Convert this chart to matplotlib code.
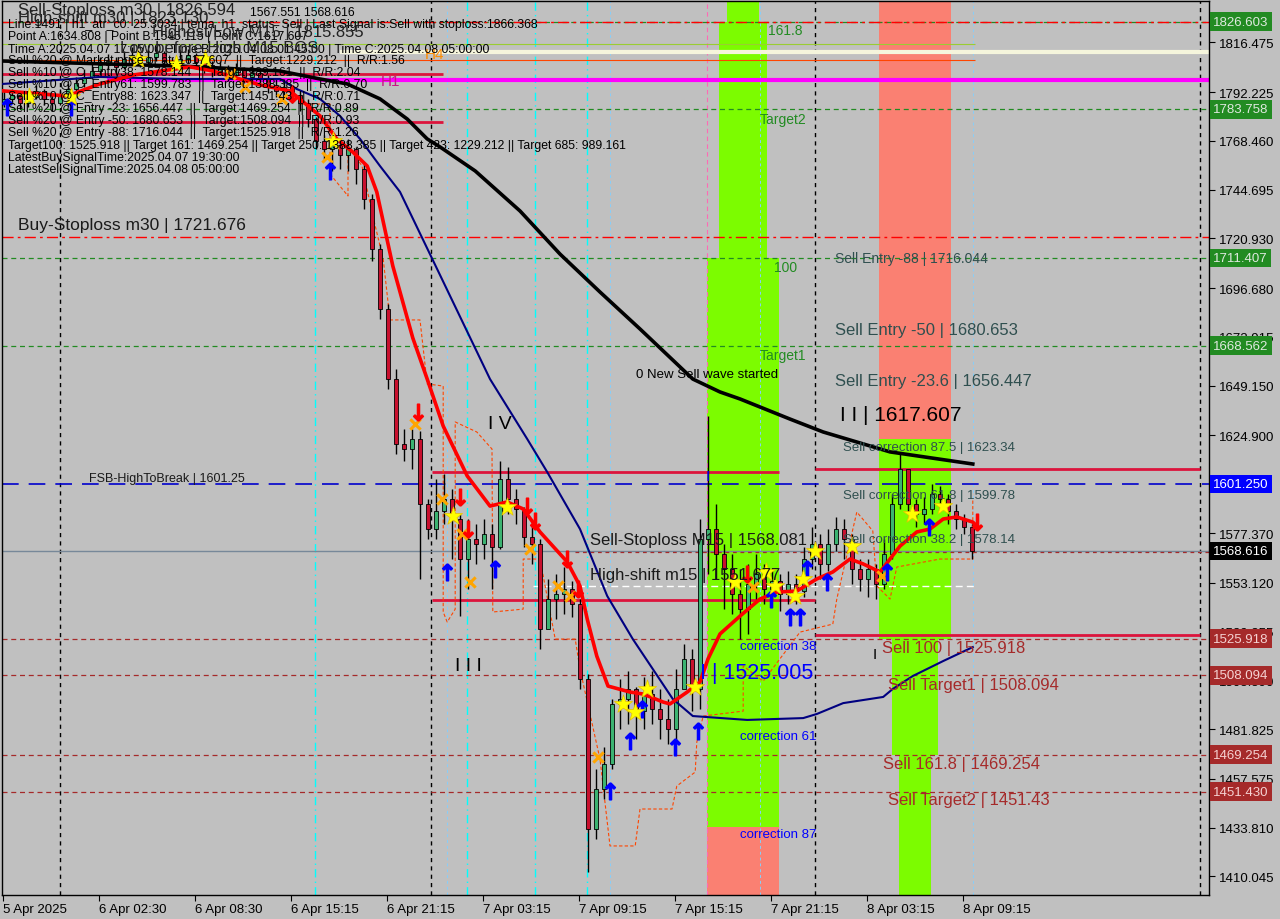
import matplotlib
matplotlib.use('Agg')
import matplotlib.pyplot as plt
import matplotlib.transforms as mtransforms

plt.rcParams['font.family'] = ['Liberation Sans', 'DejaVu Sans']

# ---- candles (30 min bars, x = bar index) ----
first_open = 1787.0
close = [1788.9, 1790.8, 1786.9, 1789.8, 1792.8, 1788.9, 1786.9, 1790.8, 1793.7, 1796.7,
         1799.6, 1802.5, 1805.4, 1807.4, 1804.5, 1808.4, 1810.3, 1806.9, 1809.3, 1811.3,
         1807.4, 1805.4, 1808.4, 1810.3, 1806.9, 1805.4, 1802.5, 1804.5, 1800.6, 1803.5,
         1799.6, 1801.5, 1798.6, 1795.7, 1792.8, 1794.7, 1790.8, 1786.9, 1779.1, 1768.4,
         1764.5, 1766.5, 1761.6, 1764.5, 1754.8, 1740.1, 1715.8, 1686.5, 1652.4, 1620.8,
         1618.3, 1623.2, 1591.5, 1579.3, 1588.1, 1593.9, 1584.2, 1564.7, 1574.5, 1572.0,
         1576.9, 1570.6, 1603.7, 1593.9, 1589.1, 1575.4, 1572.0, 1530.6, 1545.2, 1547.7,
         1550.1, 1542.8, 1506.2, 1433.1, 1452.6, 1464.8, 1494.1, 1496.5, 1501.4, 1490.6,
         1498.9, 1491.6, 1486.7, 1481.9, 1501.4, 1516.0, 1501.4, 1574.5, 1579.3, 1567.1,
         1559.8, 1547.7, 1540.3, 1552.5, 1557.4, 1550.1, 1554.0, 1547.7, 1552.5, 1549.1,
         1564.7, 1572.0, 1562.3, 1572.0, 1579.3, 1574.5, 1559.8, 1555.0, 1559.8, 1552.5,
         1567.1, 1591.5, 1608.6, 1591.5, 1586.6, 1589.1, 1596.4, 1593.9, 1588.1, 1584.2,
         1580.3, 1568.6]
high = [1792.8, 1793.7, 1791.8, 1792.8, 1795.7, 1793.7, 1790.8, 1793.7, 1796.7, 1799.6,
        1803.5, 1806.4, 1809.3, 1810.8, 1809.3, 1812.3, 1814.2, 1811.3, 1813.2, 1814.7,
        1812.3, 1809.3, 1812.3, 1813.2, 1811.3, 1809.3, 1807.4, 1807.4, 1805.4, 1806.4,
        1804.5, 1805.4, 1803.5, 1800.6, 1798.6, 1798.6, 1795.7, 1792.8, 1788.9, 1780.1,
        1771.3, 1770.4, 1769.4, 1769.4, 1765.5, 1757.2, 1742.6, 1718.2, 1689.0, 1657.3,
        1628.1, 1628.1, 1627.1, 1593.9, 1603.7, 1606.1, 1598.8, 1586.6, 1584.2, 1581.8,
        1584.2, 1581.8, 1612.5, 1609.5, 1598.8, 1590.1, 1584.2, 1574.5, 1555.0, 1557.4,
        1560.8, 1554.0, 1545.2, 1508.7, 1462.4, 1473.1, 1496.5, 1506.2, 1510.1, 1502.3,
        1507.2, 1510.1, 1501.4, 1496.5, 1511.1, 1523.3, 1520.9, 1584.2, 1634.4, 1591.5,
        1572.0, 1567.1, 1559.8, 1562.3, 1567.1, 1562.3, 1559.8, 1557.4, 1558.9, 1557.4,
        1570.6, 1580.3, 1576.9, 1579.3, 1585.2, 1584.2, 1576.9, 1564.7, 1564.7, 1562.3,
        1574.5, 1596.4, 1616.9, 1606.1, 1593.9, 1594.9, 1601.3, 1600.3, 1596.4, 1591.5,
        1586.6, 1581.8]
low = [1785.0, 1786.9, 1784.0, 1785.0, 1788.9, 1785.9, 1783.0, 1785.9, 1789.8, 1791.8,
       1794.7, 1798.6, 1800.6, 1803.5, 1801.5, 1803.5, 1806.4, 1804.5, 1805.4, 1807.4,
       1805.4, 1802.5, 1804.5, 1806.4, 1803.5, 1801.5, 1799.6, 1800.6, 1797.6, 1799.6,
       1796.7, 1797.6, 1795.7, 1791.8, 1789.8, 1790.8, 1786.9, 1783.0, 1775.2, 1764.5,
       1759.6, 1753.8, 1754.8, 1753.8, 1747.4, 1735.3, 1709.9, 1681.7, 1647.6, 1615.9,
       1612.5, 1608.6, 1555.0, 1574.5, 1574.5, 1581.8, 1564.7, 1536.9, 1550.1, 1562.3,
       1564.7, 1550.1, 1569.6, 1586.6, 1581.8, 1570.6, 1562.3, 1520.9, 1533.0, 1535.5,
       1537.9, 1536.5, 1501.4, 1412.2, 1428.3, 1447.8, 1462.4, 1481.9, 1484.3, 1477.0,
       1481.9, 1484.3, 1477.0, 1474.6, 1476.0, 1507.2, 1490.6, 1491.6, 1557.4, 1555.0,
       1540.3, 1537.9, 1525.7, 1528.2, 1545.2, 1542.8, 1545.2, 1539.4, 1542.8, 1542.8,
       1546.2, 1559.8, 1555.0, 1558.9, 1568.6, 1564.7, 1552.5, 1549.1, 1546.2, 1545.2,
       1550.1, 1564.7, 1589.1, 1586.6, 1580.3, 1581.8, 1586.6, 1588.1, 1581.8, 1579.3,
       1576.9, 1564.7]

# ---- moving averages ----
red_ma_x = [0.4, 8.4, 12.5, 16.75, 23.75, 26.6, 32.5, 36.25, 40.0, 42.1, 44.1, 45.9, 47.1,
            49.1, 51.6, 53.4, 55.4, 58.4, 61.25, 63.4, 65.4, 67.5, 70.9, 72.5, 73.4, 74.6,
            76.0, 78.75, 80.4, 82.9, 83.75, 85.9, 87.5, 88.5, 90.0, 92.5, 95.0, 97.1, 99.6,
            102.1, 104.1, 106.25, 107.9, 110.0, 111.25, 112.5, 114.6, 116.25, 117.9, 119.6,
            121.6, 122.1]
red_ma_y = [1792.8, 1790.3, 1796.2, 1800.6, 1804.5, 1802.5, 1795.7, 1792.8, 1780.6, 1769.4,
            1763.0, 1756.2, 1743.5, 1707.5, 1672.4, 1652.4, 1629.5, 1605.2, 1590.5, 1592.5,
            1589.1, 1577.9, 1563.3, 1551.5, 1535.5, 1517.4, 1502.8, 1499.9, 1498.9, 1495.0,
            1494.1, 1499.9, 1504.8, 1516.0, 1528.2, 1536.9, 1545.2, 1548.6, 1549.1, 1555.0,
            1558.4, 1564.7, 1562.3, 1558.4, 1564.7, 1571.0, 1577.9, 1579.3, 1584.2, 1585.2,
            1582.7, 1580.8]
blue_ma_x = [0.4, 12.5, 22.5, 35.0, 37.1, 40.0, 42.5, 45.0, 47.5, 50.0, 55.0, 61.25, 65.9,
             68.4, 72.5, 75.9, 79.1, 84.1, 86.6, 93.4, 100.4, 102.1, 105.4, 110.4, 111.6,
             114.1, 117.9, 121.6]
blue_ma_y = [1796.2, 1799.6, 1798.6, 1798.6, 1793.7, 1788.9, 1780.6, 1769.4, 1756.2, 1743.6,
             1703.1, 1652.4, 1623.2, 1607.1, 1579.3, 1546.7, 1525.7, 1496.5, 1488.2, 1486.3,
             1487.2, 1489.2, 1494.5, 1497.5, 1501.4, 1507.7, 1515.0, 1521.8]
black_ma_x = [0.0, 22.5, 35.0, 40.0, 43.4, 47.5, 50.9, 53.4, 55.0, 59.4, 65.0, 70.0, 75.0,
              80.0, 86.6, 90.0, 92.5, 98.75, 102.9, 111.25, 121.6]
black_ma_y = [1807.4, 1804.9, 1802.5, 1798.6, 1796.2, 1788.9, 1779.1, 1769.4, 1765.5, 1753.8,
              1734.3, 1713.3, 1694.8, 1676.8, 1652.4, 1646.1, 1642.7, 1632.9, 1626.6, 1616.9,
              1611.0]
orange_x = [37.5, 41.25, 41.25, 43.5, 43.5, 45.25, 46.6, 47.9, 48.75, 52.5, 53.4, 55.4, 55.4,
            55.9, 56.9, 56.9, 59.6, 61.5, 61.6, 65.4, 65.4, 67.5, 69.4, 71.9, 72.5, 75.0,
            76.25, 79.4, 80.0, 84.0, 84.6, 86.9, 87.1, 87.9, 92.9, 92.9, 95.4, 100.0, 104.1,
            104.6, 107.1, 109.1, 109.6, 111.25, 112.1, 117.5, 121.6, 121.6]
orange_y = [1786.4, 1786.4, 1752.3, 1741.6, 1766.5, 1756.2, 1731.9, 1710.9, 1681.2, 1681.2,
            1650.0, 1649.0, 1538.9, 1534.0, 1540.3, 1631.5, 1626.6, 1618.3, 1538.9, 1540.3,
            1564.7, 1564.7, 1525.7, 1525.7, 1511.1, 1467.2, 1424.9, 1424.9, 1442.9, 1442.9,
            1454.1, 1460.9, 1475.5, 1488.2, 1490.6, 1512.6, 1505.2, 1529.1, 1533.0, 1545.2,
            1587.6, 1578.4, 1551.6, 1545.2, 1560.8, 1564.7, 1564.7, 1593.9]

# ---- signal marks ----
star_x = [3.6, 8.9, 17.25, 22.0, 25.6, 41.6, 56.6, 63.4, 77.9, 79.4, 80.9, 86.9, 91.9, 95.75,
          96.9, 99.4, 100.4, 101.9, 106.5, 114.0, 117.9]
star_y = [1789.8, 1789.8, 1808.4, 1805.9, 1808.4, 1768.4, 1585.7, 1590.1, 1494.1, 1490.1,
          1501.4, 1502.3, 1553.5, 1558.4, 1551.6, 1546.7, 1555.0, 1568.6, 1571.0, 1586.6,
          1590.5]
up_x = [0.9, 8.9, 41.25, 55.9, 61.9, 76.25, 78.75, 80.25, 84.4, 87.25, 96.4, 98.75, 100.0,
        100.9, 103.4, 110.9, 116.1]
up_y = [1785.0, 1785.0, 1753.8, 1558.4, 1559.8, 1451.7, 1476.0, 1491.6, 1473.1, 1480.9,
        1545.2, 1536.5, 1536.5, 1559.8, 1553.5, 1558.4, 1580.3]
down_x = [36.5, 52.25, 57.5, 58.5, 65.9, 66.9, 70.9, 72.25, 93.4, 122.1]
down_y = [1791.3, 1636.3, 1594.9, 1579.3, 1590.5, 1583.2, 1564.7, 1550.1, 1557.4, 1582.7]
cross_x = [28.75, 30.6, 35.25, 40.9, 51.9, 55.25, 57.75, 58.75, 66.25, 69.75, 71.25, 74.75,
           94.1, 110.25]
cross_y = [1801.1, 1794.7, 1788.9, 1760.6, 1630.5, 1593.9, 1576.9, 1553.5, 1569.6, 1551.6,
           1546.7, 1468.2, 1551.1, 1556.4]

# ---- axis ----
price_ticks = [1816.475, 1792.225, 1768.460, 1744.695, 1720.930, 1696.680, 1672.915, 1649.150,
               1624.900, 1577.370, 1553.120, 1529.355, 1505.590, 1481.825, 1457.575,
               1433.810, 1410.045]
time_labels = ['5 Apr 2025', '6 Apr 02:30', '6 Apr 08:30', '6 Apr 15:15', '6 Apr 21:15',
               '7 Apr 03:15', '7 Apr 09:15', '7 Apr 15:15', '7 Apr 21:15', '8 Apr 03:15',
               '8 Apr 09:15']
time_pos = [0.375, 12.375, 24.375, 36.375, 48.375, 60.375, 72.375, 84.375, 96.375, 108.375,
            120.375]
box_levels = [1826.603, 1783.758, 1711.407, 1668.562, 1601.250, 1568.616, 1525.918,
              1508.094, 1469.254, 1451.430]
box_colors = ['#228b22', '#228b22', '#228b22', '#228b22', '#0000ff', '#000000', '#a52a2a',
              '#a52a2a', '#a52a2a', '#a52a2a']
box_text = ['#dfe9df', '#dfe9df', '#dfe9df', '#dfe9df', 'white', 'white', '#f5d2d2',
            '#f5d2d2', '#f5d2d2', '#f5d2d2']

W, H = 1280, 920
BG = '#c0c0c0'
fig = plt.figure(figsize=(12.8, 9.2), dpi=100)
fig.patch.set_facecolor(BG)
ax = fig.add_axes([2 / W, 24 / H, 1207 / W, 894 / H])
ax.set_facecolor(BG)
ax.set_xlim(0.25, 151.125)
ax.set_ylim(1401.0, 1836.6)
YTOP, YBOT = 1836.6, 1401.0

# coloured zones
zones = [(90.9, 94.9, 1826.6, YTOP, '#7cfc00'),
         (89.9, 95.9, 1711.4, 1826.6, '#7cfc00'),
         (88.4, 97.4, 1434.1, 1711.4, '#7cfc00'),
         (88.4, 97.4, YBOT, 1434.1, '#fa8072'),
         (109.9, 118.9, 1623.34, YTOP, '#fa8072'),
         (109.9, 118.9, 1525.918, 1623.34, '#7cfc00'),
         (111.5, 117.25, 1469.254, 1525.918, '#7cfc00'),
         (112.4, 116.4, YBOT, 1469.254, '#7cfc00')]
for x0, x1, y0, y1, c in zones:
    ax.fill_between([x0, x1], y0, y1, color=c, lw=0, zorder=0.5)

# vertical separators
for xv in [7.5, 53.9, 101.9, 150.0]:
    ax.axvline(xv, color='black', ls=(0, (3, 3)), lw=1, zorder=1)
for xv in [39.4, 58.4, 66.9, 73.4]:
    ax.axvline(xv, color='#00ffff', ls=(0, (6, 3, 1, 3)), lw=1, zorder=1)
for xv in [55.9, 76.25, 95.0, 121.6]:
    ax.axvline(xv, color='#87cefa', ls=(0, (3, 3)), lw=0.7, zorder=1)
ax.axvline(88.4, color='#ff69b4', ls=(0, (4, 3)), lw=0.8, zorder=1)

# horizontal levels
for lv in [1826.603, 1783.758, 1711.407, 1668.562]:
    ax.axhline(lv, color='#228b22', ls=(0, (4, 3)), lw=0.9, zorder=1.2)
for lv in [1826.594, 1721.676]:
    ax.axhline(lv, color='red', ls=(0, (8, 3, 2, 3)), lw=1, zorder=1.2)
for lv in [1525.918, 1508.094, 1469.254, 1451.430]:
    ax.axhline(lv, color='#a52a2a', ls=(0, (4, 3)), lw=0.9, zorder=1.2)
ax.axhline(1601.25, color='#0000cd', ls=(0, (10, 6)), lw=1.2, zorder=1.2)
ax.axhline(1568.616, color='#778899', lw=1, zorder=1.2)
ax.hlines(1568.081, 71.9, 151.1, color='#a52a2a', ls=(0, (3, 3)), lw=0.9, zorder=1.2)
ax.hlines(1551.677, 66.6, 121.9, color='white', ls=(0, (5, 3)), lw=1, zorder=1.2)
ax.hlines(1811.8, 42.5, 151.1, color='#f5f5dc', lw=3, zorder=1.2)
ax.hlines(1798.1, 13.4, 151.1, color='#ff00ff', lw=3, zorder=1.2)
ax.hlines(1815.7, 0.25, 121.9, color='#9acd32', lw=0.8, zorder=1.2)
ax.hlines(1807.9, 0.25, 121.9, color='#ff4500', lw=0.8, zorder=1.2)
crimson = [(1801.1, 0.25, 55.4), (1777.7, 0.25, 55.4), (1607.1, 54.0, 97.4),
           (1608.6, 101.9, 150.0), (1544.7, 54.0, 101.9), (1527.7, 101.9, 150.0)]
for lv, x0, x1 in crimson:
    ax.hlines(lv, x0, x1, color='#dc143c', lw=2, zorder=1.3)

ax.plot(orange_x, orange_y, color='#ff4500', ls=(0, (3, 2)), lw=0.8, zorder=2)

# candles
opens = [first_open] + close[:-1]
xs = [k + 0.5 for k in range(len(close))]
ax.vlines(xs, low, high, color='black', lw=1, zorder=3)
cols = ['#3cb371' if c >= o else '#c8102e' for o, c in zip(opens, close)]
hts = [(c - o) if abs(c - o) > 0.4 else 0.4 for o, c in zip(opens, close)]
ax.bar(xs, hts, bottom=opens, width=0.55, color=cols, edgecolor='black', linewidth=0.6,
       zorder=3.2)

# averages
ax.plot(black_ma_x, black_ma_y, color='black', lw=2.6, zorder=4)
ax.plot(blue_ma_x, blue_ma_y, color='#000080', lw=1.5, zorder=4)
ax.plot(red_ma_x, red_ma_y, color='#ff0000', lw=2.6, zorder=4.1)

# signals
ax.scatter(cross_x, cross_y, marker='x', s=55, c='#ffa500', linewidths=2.2, zorder=5)
ax.scatter(star_x, star_y, marker='*', s=190, c='#ffff00', edgecolors='#e6c200',
           linewidths=0.5, zorder=5.2)
ax.scatter(up_x, up_y, marker=r'$\uparrow$', s=140, c='#0000ff', edgecolors='#0000ff',
           linewidths=1.2, zorder=5.1)
ax.scatter(down_x, down_y, marker=r'$\downarrow$', s=140, c='#ff0000', edgecolors='#ff0000',
           linewidths=1.2, zorder=5.1)

# chart labels (x = px/8)
def lab(px, price, s, size, color='#1a1a1a'):
    ax.text(px / 8, price, s, fontsize=size, color=color, ha='left', va='center', zorder=6)

lab(18, 1727.5, 'Buy-Stoploss m30 | 1721.676', 12.5)
lab(89, 1604.2, 'FSB-HighToBreak | 1601.25', 9)
lab(835, 1711.4, 'Sell Entry -88 | 1716.044', 10, '#2f4f4f')
lab(835, 1676.3, 'Sell Entry -50 | 1680.653', 12, '#2f4f4f')
lab(835, 1651.9, 'Sell Entry -23.6 | 1656.447', 12, '#2f4f4f')
lab(840, 1634.9, 'I I | 1617.607', 15, 'black')
lab(843, 1619.3, 'Sell correction 87.5 | 1623.34', 9.5, '#2f4f4f')
lab(843, 1595.9, 'Sell correction 61.8 | 1599.78', 9.5, '#2f4f4f')
lab(843, 1574.5, 'Sell correction 38.2 | 1578.14', 9.5, '#2f4f4f')
lab(590, 1574.0, 'Sell-Stoploss M15 | 1568.081', 12)
lab(590, 1557.4, 'High-shift m15 | 1551.677', 12)
lab(636, 1654.9, '0 New Sell wave started', 9.5, 'black')
lab(760, 1664.1, 'Target1', 10, '#228b22')
lab(760, 1779.1, 'Target2', 10, '#228b22')
lab(768, 1822.5, '161.8', 10, '#228b22')
lab(774, 1707.0, '100', 10, '#228b22')
lab(488, 1630.5, 'I V', 14, 'black')
lab(455, 1512.6, 'I I I', 14, 'black')
lab(700, 1509.6, 'I | 1525.005', 15.5, '#0000ff')
lab(706, 1605.2, 'I', 11, '#0000ff')
lab(740, 1522.3, 'correction 38', 9.5, '#0000ff')
lab(740, 1478.5, 'correction 61', 9.5, '#0000ff')
lab(740, 1430.7, 'correction 87', 9.5, '#0000ff')
lab(882, 1521.8, 'Sell 100 | 1525.918', 12, '#a52a2a')
lab(888, 1503.8, 'Sell Target1 | 1508.094', 12, '#a52a2a')
lab(883, 1465.3, 'Sell 161.8 | 1469.254', 12, '#a52a2a')
lab(888, 1447.3, 'Sell Target2 | 1451.43', 12, '#a52a2a')
lab(873, 1518.4, 'I', 11, 'black')
lab(381, 1797.6, 'H1', 11, '#c71585')
lab(425, 1810.8, 'H4', 11, '#ff8c00')

# info block in the top-left corner (pixel positions)
def ftxt(px, py, s, size=8.8, color='black'):
    fig.text(px / W, 1 - py / H, s, fontsize=size, color=color, ha='left', va='center',
             zorder=7)

ftxt(18, 11, 'Sell-Stoploss m30 | 1826.594', 12, '#222222')
ftxt(18, 19, 'High-shift m30 | 1823.130', 12, '#222222')
ftxt(250, 13, '1567.551 1568.616')
ftxt(8, 25, 'Line:1491 | h1_atr_c0: 25.3034 | tema_h1_status: Sell | Last Signal is:Sell '
     'with stoploss:1866.368')
ftxt(8, 37, 'Point A:1634.808 | Point B:1545.115 | Point C:1617.607')
ftxt(152, 33, 'Highest/Low M15 | 1815.855', 12, '#222222')
ftxt(8, 50, 'Time A:2025.04.07 17:15:00 | Time B:2025.04.08 01:45:00 | '
     'Time C:2025.04.08 05:00:00')
ftxt(120, 48, 'Low before High M15 BOS', 12, '#222222')
info = ['Sell %20 @ Market price or at: 1617.607  ||  Target:1229.212  ||  R/R:1.56',
        'Sell %10 @ C_Entry38: 1578.144  ||  Target:989.161  ||  R/R:2.04',
        'Sell %10 @ C_Entry61: 1599.783  ||  Target:1388.385  ||  R/R:0.70',
        'Sell %10 @ C_Entry88: 1623.347  ||  Target:1451.43  ||  R/R:0.71',
        'Sell %20 @ Entry -23: 1656.447  ||  Target:1469.254  ||  R/R:0.89',
        'Sell %20 @ Entry -50: 1680.653  ||  Target:1508.094  ||  R/R:0.93',
        'Sell %20 @ Entry -88: 1716.044  ||  Target:1525.918  ||  R/R:1.26',
        'Target100: 1525.918 || Target 161: 1469.254 || Target 250: 1388.385 || '
        'Target 423: 1229.212 || Target 685: 989.161',
        'LatestBuySignalTime:2025.04.07 19:30:00',
        'LatestSellSignalTime:2025.04.08 05:00:00']
info_y = [61, 73, 85, 97, 109, 121, 133, 146, 158, 170]
for s, py in zip(info, info_y):
    ftxt(8, py, s)

# axes styling
for sp in ax.spines.values():
    sp.set_color('black')
    sp.set_linewidth(1)
ax.yaxis.tick_right()
ax.set_yticks(price_ticks)
ax.set_yticklabels([f'{v:.3f}' for v in price_ticks])
ax.tick_params(axis='y', which='both', left=False, right=True, labelleft=False,
               labelright=True, direction='out', length=4, pad=3, labelsize=9.5,
               colors='black')
ax.set_xticks(time_pos)
ax.set_xticklabels(time_labels)
ax.tick_params(axis='x', direction='out', length=4, pad=2, labelsize=9.5, colors='black')
for t in ax.get_xticklabels():
    t.set_ha('left')

trans = mtransforms.blended_transform_factory(ax.transAxes, ax.transData)
for lv, bc, tc in zip(box_levels, box_colors, box_text):
    ax.text(1.0035, lv, f'{lv:.3f}', transform=trans, fontsize=9.5, color=tc, ha='left',
            va='center', clip_on=False, zorder=8,
            bbox=dict(boxstyle='square,pad=0.26', fc=bc, ec='none'))

fig.savefig('out.png', dpi=100, facecolor=BG)
